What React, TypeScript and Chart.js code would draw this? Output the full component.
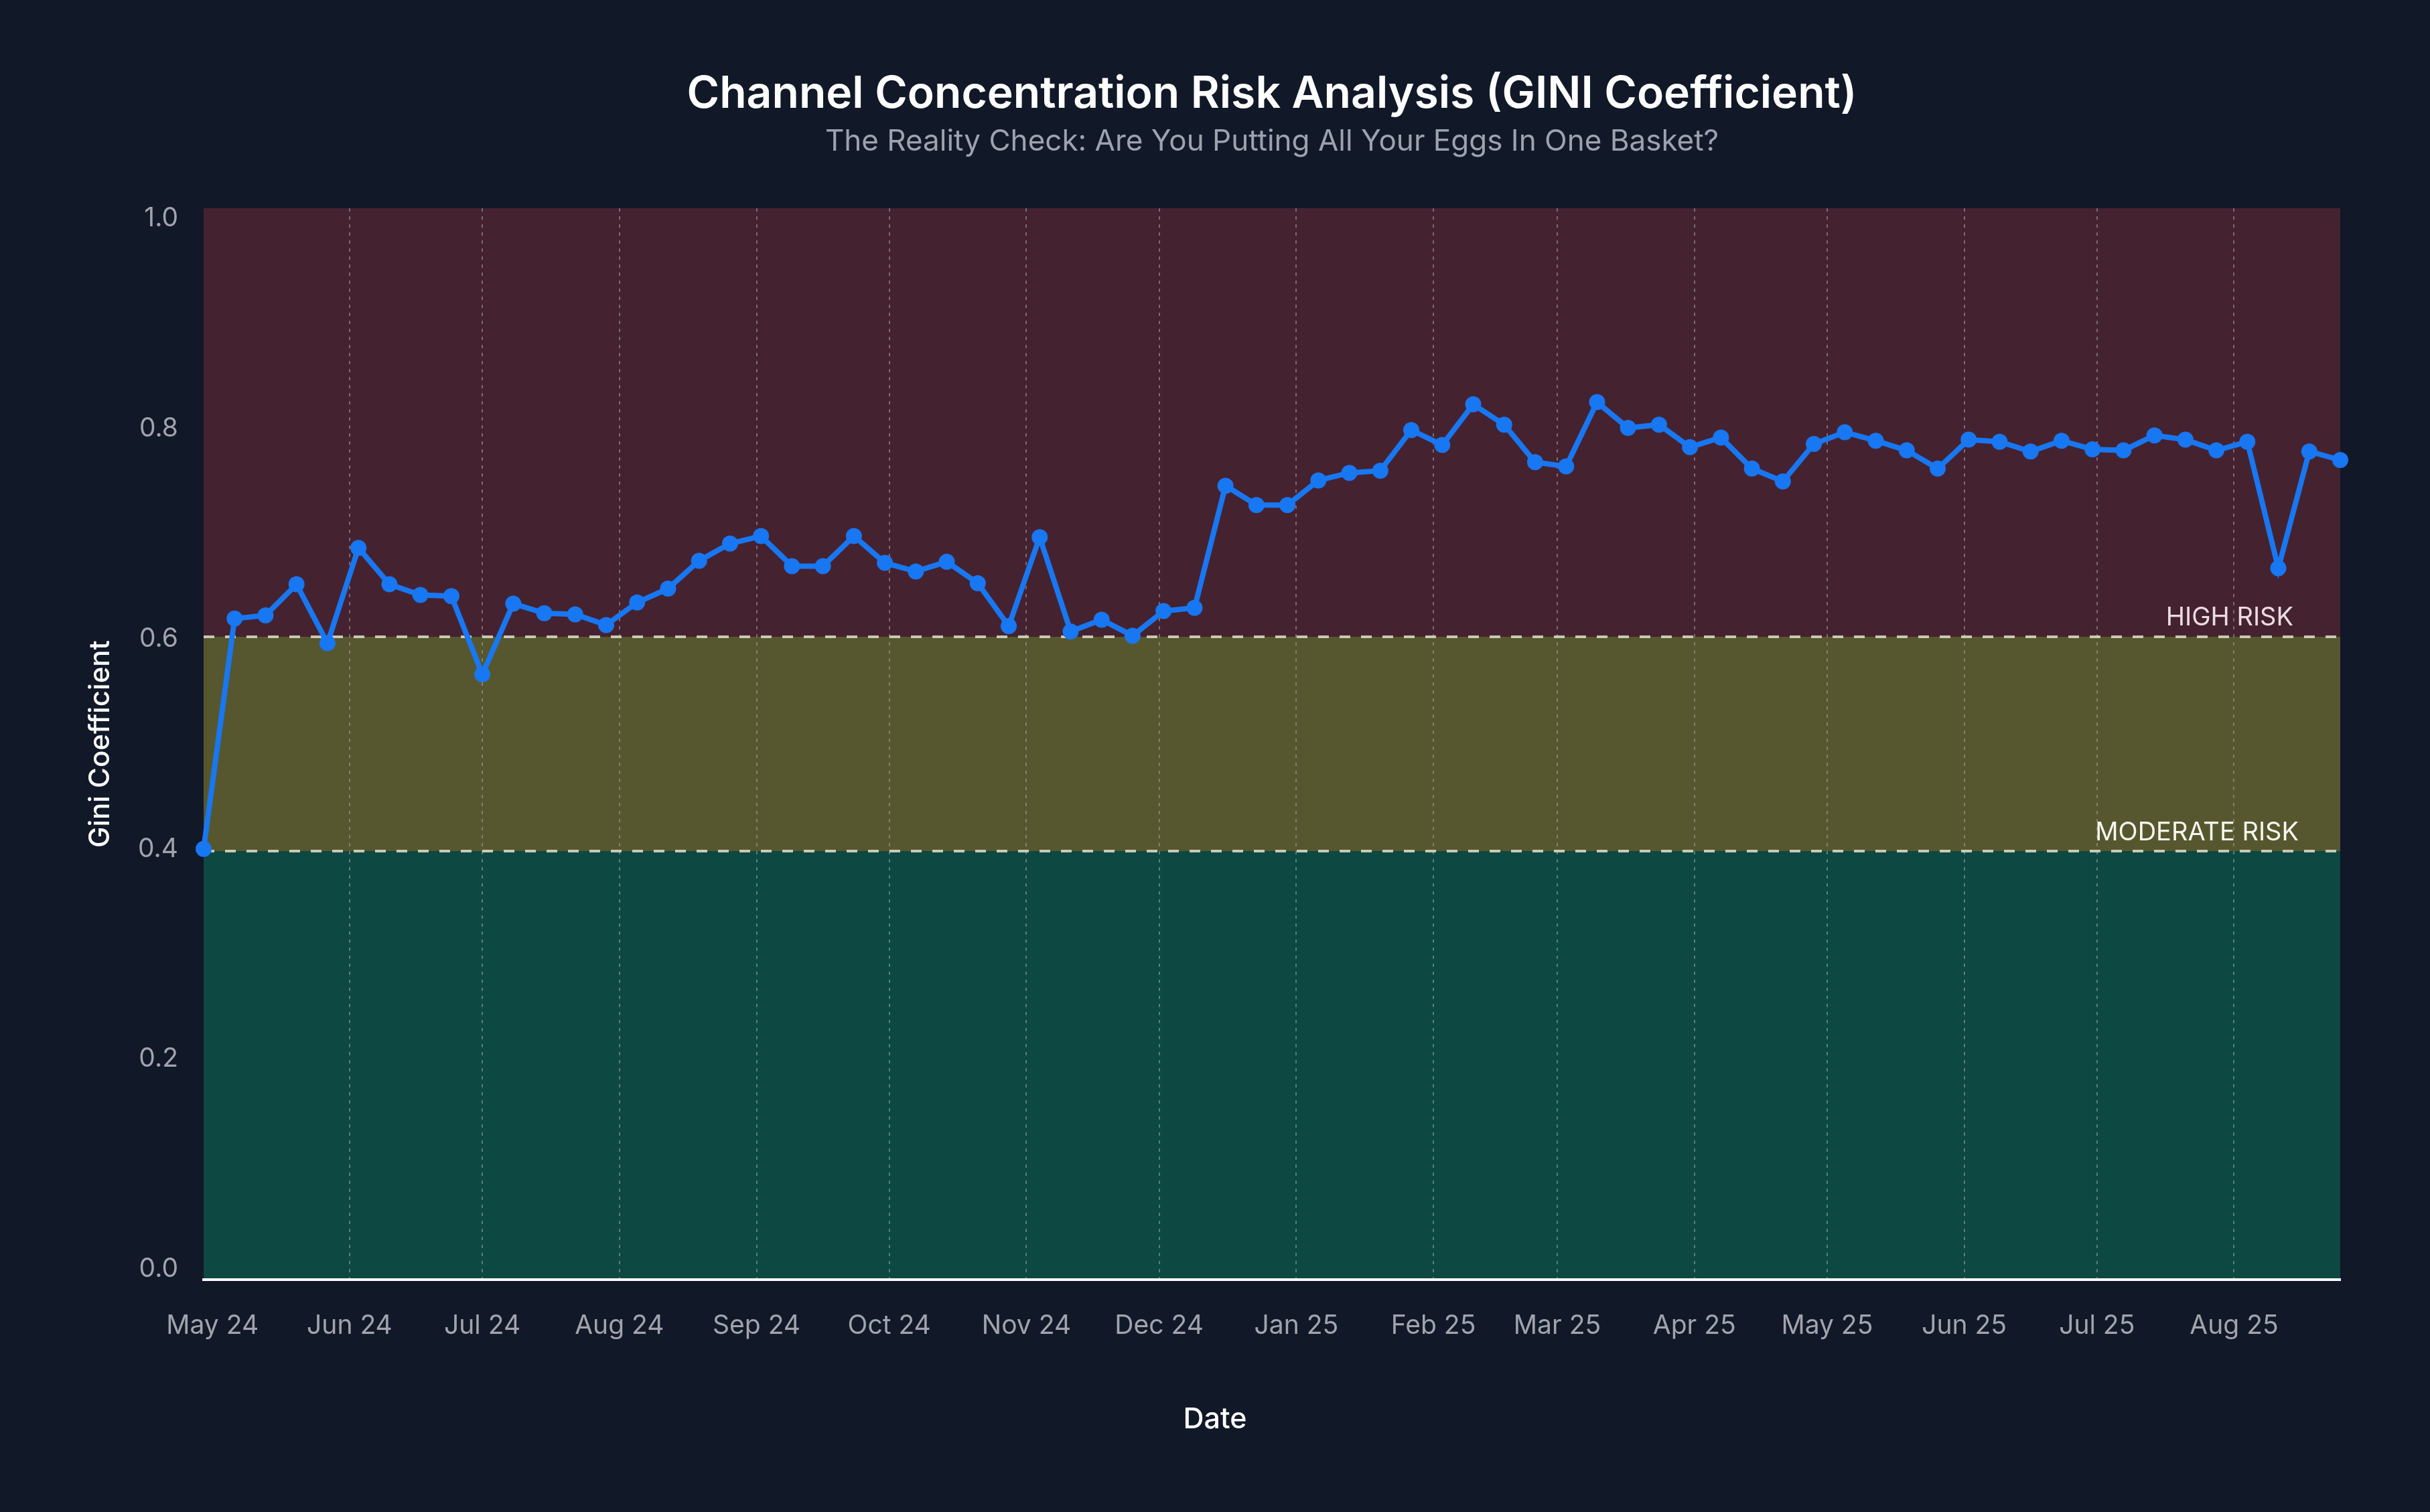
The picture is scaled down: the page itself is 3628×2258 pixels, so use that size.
import React, { useEffect, useRef } from 'react';
import { Chart, registerables } from 'chart.js';

Chart.register(...registerables);

// ---- data ----
const weekDates = [
  '2024-04-29', '2024-05-06', '2024-05-13', '2024-05-20', '2024-05-27',
  '2024-06-03', '2024-06-10', '2024-06-17', '2024-06-24', '2024-07-01',
  '2024-07-08', '2024-07-15', '2024-07-22', '2024-07-29', '2024-08-05',
  '2024-08-12', '2024-08-19', '2024-08-26', '2024-09-02', '2024-09-09',
  '2024-09-16', '2024-09-23', '2024-09-30', '2024-10-07', '2024-10-14',
  '2024-10-21', '2024-10-28', '2024-11-04', '2024-11-11', '2024-11-18',
  '2024-11-25', '2024-12-02', '2024-12-09', '2024-12-16', '2024-12-23',
  '2024-12-30', '2025-01-06', '2025-01-13', '2025-01-20', '2025-01-27',
  '2025-02-03', '2025-02-10', '2025-02-17', '2025-02-24', '2025-03-03',
  '2025-03-10', '2025-03-17', '2025-03-24', '2025-03-31', '2025-04-07',
  '2025-04-14', '2025-04-21', '2025-04-28', '2025-05-05', '2025-05-12',
  '2025-05-19', '2025-05-26', '2025-06-02', '2025-06-09', '2025-06-16',
  '2025-06-23', '2025-06-30', '2025-07-07', '2025-07-14', '2025-07-21',
  '2025-07-28', '2025-08-04', '2025-08-11', '2025-08-18', '2025-08-25',
];

const giniValues = [
  0.402, 0.617, 0.620, 0.649, 0.594,
  0.683, 0.649, 0.639, 0.638, 0.565,
  0.631, 0.622, 0.621, 0.611, 0.632,
  0.645, 0.671, 0.687, 0.694, 0.666,
  0.666, 0.694, 0.669, 0.661, 0.670,
  0.650, 0.610, 0.693, 0.605, 0.616,
  0.601, 0.624, 0.627, 0.741, 0.723,
  0.723, 0.746, 0.753, 0.755, 0.793,
  0.779, 0.817, 0.798, 0.763, 0.759,
  0.819, 0.795, 0.798, 0.777, 0.786,
  0.757, 0.745, 0.780, 0.791, 0.783,
  0.774, 0.757, 0.784, 0.782, 0.773,
  0.783, 0.775, 0.774, 0.788, 0.784,
  0.774, 0.782, 0.664, 0.773, 0.765,
];

const monthTickDates = [
  '2024-05-01', '2024-06-01', '2024-07-01', '2024-08-01', '2024-09-01',
  '2024-10-01', '2024-11-01', '2024-12-01', '2025-01-01', '2025-02-01',
  '2025-03-01', '2025-04-01', '2025-05-01', '2025-06-01', '2025-07-01',
  '2025-08-01',
];
const monthTickLabels = [
  'May 24', 'Jun 24', 'Jul 24', 'Aug 24', 'Sep 24', 'Oct 24', 'Nov 24', 'Dec 24',
  'Jan 25', 'Feb 25', 'Mar 25', 'Apr 25', 'May 25', 'Jun 25', 'Jul 25', 'Aug 25',
];

const yTickValues = [0, 0.2, 0.4, 0.6, 0.8, 1.0];
const moderateThreshold = 0.4;
const highThreshold = 0.6;
const zoneLabels = { high: 'HIGH RISK', moderate: 'MODERATE RISK' };

const titleText = 'Channel Concentration Risk Analysis (GINI Coefficient)';
const subtitleText = 'The Reality Check: Are You Putting All Your Eggs In One Basket?';
const xTitle = 'Date';
const yTitle = 'Gini Coefficient';

// ---- helpers ----
const toDay = (s: string) => {
  const [y, m, d] = s.split('-').map(Number);
  return Date.UTC(y, m - 1, d) / 86400000;
};

const W = 3628;
const H = 2258;
const FONT = 'Inter, "Noto Sans", sans-serif';
const BG = '#111827';

const bgPlugin = {
  id: 'riskBands',
  beforeDraw(chart: any) {
    const { ctx, chartArea } = chart;
    const ys = chart.scales.yData;
    const { left, right, top, bottom } = chartArea;
    ctx.save();
    ctx.fillStyle = BG;
    ctx.fillRect(0, 0, chart.width, chart.height);
    const y6 = ys.getPixelForValue(highThreshold);
    const y4 = ys.getPixelForValue(moderateThreshold);
    ctx.fillStyle = '#452230';
    ctx.fillRect(left, top, right - left, y6 - top);
    ctx.fillStyle = '#56572E';
    ctx.fillRect(left, y6, right - left, y4 - y6);
    ctx.fillStyle = '#0D4842';
    ctx.fillRect(left, y4, right - left, bottom - y4);

    const cx = (left + right) / 2;
    ctx.textAlign = 'center';
    ctx.textBaseline = 'alphabetic';
    ctx.fillStyle = '#FFFFFF';
    ctx.font = `600 66px ${FONT}`;
    ctx.fillText(titleText, cx, 161);
    ctx.fillStyle = '#9CA3AF';
    ctx.font = `400 44px ${FONT}`;
    ctx.fillText(subtitleText, cx, 225);

    ctx.fillStyle = '#FFFFFF';
    ctx.font = `500 43px ${FONT}`;
    ctx.textBaseline = 'middle';
    ctx.fillText(xTitle, W / 2, 2120);

    ctx.save();
    ctx.translate(150, (top + bottom) / 2);
    ctx.rotate(-Math.PI / 2);
    ctx.font = `500 42px ${FONT}`;
    ctx.fillText(yTitle, 0, 0);
    ctx.restore();
    ctx.restore();
  },
  beforeDatasetsDraw(chart: any) {
    const { ctx, chartArea } = chart;
    const ys = chart.scales.yData;
    const { left, right } = chartArea;
    const y6 = ys.getPixelForValue(highThreshold);
    const y4 = ys.getPixelForValue(moderateThreshold);
    ctx.save();
    ctx.strokeStyle = 'rgba(215,215,200,0.9)';
    ctx.lineWidth = 4;
    ctx.setLineDash([16, 16]);
    [y6, y4].forEach((yy) => {
      ctx.beginPath();
      ctx.moveTo(left, yy);
      ctx.lineTo(right, yy);
      ctx.stroke();
    });
    ctx.setLineDash([]);
    ctx.font = `400 38px ${FONT}`;
    ctx.textAlign = 'right';
    ctx.textBaseline = 'alphabetic';
    ctx.fillStyle = '#EBDCE0';
    ctx.fillText(zoneLabels.high, right - 70, y6 - 17);
    ctx.fillStyle = '#F7F7F0';
    ctx.fillText(zoneLabels.moderate, right - 62, y4 - 16);
    ctx.restore();
  },
};

export default function App() {
  const ref = useRef<HTMLCanvasElement | null>(null);

  useEffect(() => {
    document.body.style.margin = '0';
    document.body.style.background = BG;
    if (!ref.current) return;
    const points = weekDates.map((d, i) => ({ x: toDay(d), y: giniValues[i] }));
    const monthDays = monthTickDates.map(toDay);

    const chart = new Chart(ref.current, {
      type: 'line',
      data: {
        datasets: [
          {
            label: 'Gini Coefficient',
            data: points,
            yAxisID: 'yData',
            borderColor: '#1877F2',
            backgroundColor: '#1877F2',
            borderWidth: 8,
            pointRadius: 12,
            pointBorderWidth: 0,
            pointBackgroundColor: '#1877F2',
            tension: 0,
            clip: false as any,
          },
        ],
      },
      options: {
        animation: false,
        responsive: false,
        devicePixelRatio: 1,
        layout: { padding: { left: 0, top: 311, right: 134, bottom: 0 } },
        plugins: {
          legend: { display: false },
          title: { display: false },
          tooltip: { enabled: false },
        },
        scales: {
          x: {
            type: 'linear',
            min: toDay(weekDates[0]),
            max: toDay(weekDates[weekDates.length - 1]),
            afterBuildTicks: (scale: any) => {
              scale.ticks = monthDays.map((v) => ({ value: v }));
            },
            afterFit: (scale: any) => {
              scale.height = 347;
            },
            ticks: {
              autoSkip: false,
              maxRotation: 0,
              minRotation: 0,
              padding: 46,
              color: '#A1A4AD',
              font: { family: FONT, size: 39 },
              callback: (value: any) => {
                const idx = monthDays.indexOf(Number(value));
                return idx >= 0 ? monthTickLabels[idx] : '';
              },
            },
            grid: {
              drawTicks: false,
              lineWidth: 2,
              color: (c: any) => (c.index === 0 ? 'rgba(0,0,0,0)' : 'rgba(160,165,175,0.55)'),
            },
            border: { display: true, color: '#FFFFFF', width: 4, dash: [5, 7] },
          },
          y: {
            position: 'left',
            min: -0.01,
            max: 1.01,
            afterBuildTicks: (scale: any) => {
              scale.ticks = yTickValues.map((v) => ({ value: v }));
            },
            afterFit: (scale: any) => {
              scale.width = 304;
            },
            ticks: {
              padding: 38,
              color: '#A1A4AD',
              font: { family: FONT, size: 39 },
              callback: (value: any) => Number(value).toFixed(1),
            },
            grid: { display: false, drawTicks: false },
            border: { display: false },
          },
          yData: {
            position: 'left',
            display: false,
            min: 0,
            max: 1,
          },
        },
      },
      plugins: [bgPlugin],
    });
    return () => chart.destroy();
  }, []);

  return (
    <div style={{ width: W, height: H, background: BG }}>
      <canvas ref={ref} width={W} height={H} style={{ display: 'block', width: W, height: H }} />
    </div>
  );
}
